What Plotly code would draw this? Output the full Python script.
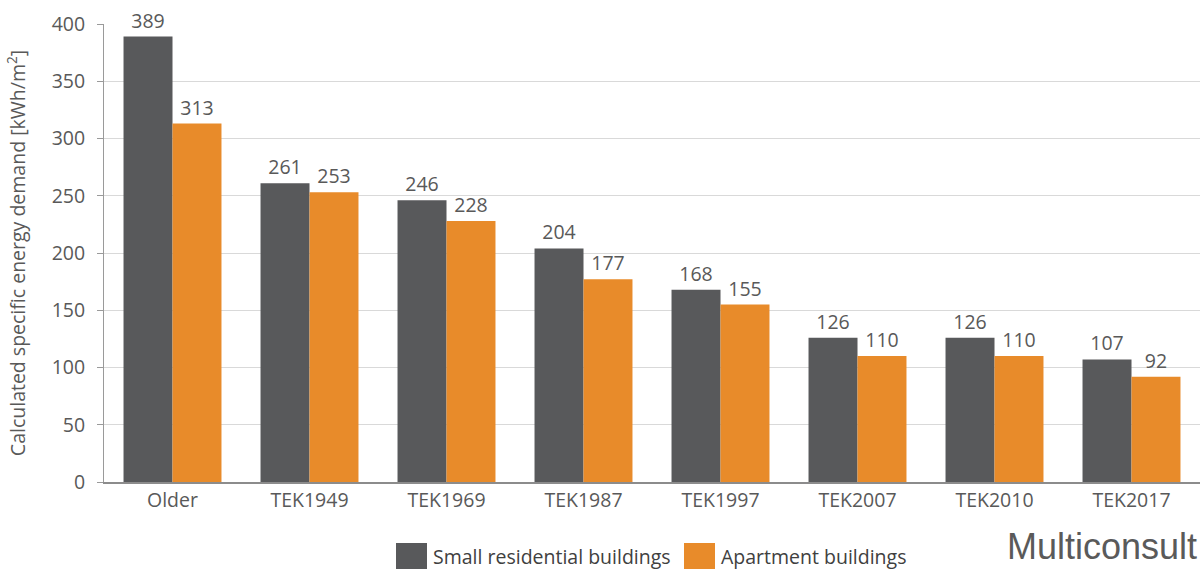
import plotly.graph_objects as go

categories = ["Older", "TEK1949", "TEK1969", "TEK1987", "TEK1997", "TEK2007", "TEK2010", "TEK2017"]
small_residential = [389, 261, 246, 204, 168, 126, 126, 107]
apartment = [313, 253, 228, 177, 155, 110, 110, 92]
series_names = ["Small residential buildings", "Apartment buildings"]
series_colors = ["#58595b", "#e88b2a"]

font_family = "Open Sans, Lato, sans-serif"
text_color = "#595959"
fs = 19.5

W, H = 1200, 570
ML, MR, MT, MB = 104, 0, 24, 88
PW, PH = W - ML - MR, H - MT - MB


def px_x(px):
    return (px - ML) / PW


def px_y(py):
    return (H - MB - py) / PH


fig = go.Figure()
for name, vals, col in zip(series_names, [small_residential, apartment], series_colors):
    fig.add_trace(go.Bar(
        x=categories, y=vals, name=name,
        marker=dict(color=col, line=dict(width=0)),
        text=vals, textposition="outside", cliponaxis=False,
        textfont=dict(size=fs, color=text_color, family=font_family),
        showlegend=False,
    ))

fig.update_layout(
    width=W, height=H,
    margin=dict(l=ML, r=MR, t=MT, b=MB, autoexpand=False),
    paper_bgcolor="white", plot_bgcolor="white",
    barmode="group", bargap=0.285, bargroupgap=0,
    font=dict(family=font_family, size=fs, color=text_color),
    showlegend=False,
)
fig.update_xaxes(
    showline=True, linecolor="#8c8c8c", linewidth=1.5,
    ticks="", tickfont=dict(size=fs, color=text_color),
    showgrid=False, automargin=False,
)
fig.update_yaxes(
    range=[0, 400], dtick=50,
    showline=True, linecolor="#9a9a9a", linewidth=1,
    ticks="outside", ticklen=6, tickcolor="#9a9a9a", ticklabelstandoff=8,
    tickfont=dict(size=fs, color=text_color),
    showgrid=True, gridcolor="#d9d9d9", gridwidth=1,
    zeroline=False, automargin=False,
    title=dict(text="Calculated specific energy demand [kWh/m<sup>2</sup>]",
               font=dict(size=fs, color=text_color), standoff=20),
)

# custom legend (large square swatches)
legend_px = [396, 684]
for lpx, name, col in zip(legend_px, series_names, series_colors):
    fig.add_shape(type="rect", xref="paper", yref="paper",
                  x0=px_x(lpx), x1=px_x(lpx + 31),
                  y0=px_y(569), y1=px_y(543),
                  fillcolor=col, line=dict(width=0), layer="above")
    fig.add_annotation(text=name, xref="paper", yref="paper",
                       x=px_x(lpx + 35), xanchor="left",
                       y=px_y(556), yanchor="middle", showarrow=False,
                       font=dict(size=fs, color="#404040", family=font_family))

fig.add_annotation(
    text="Multiconsult", xref="paper", yref="paper", x=px_x(1199), xanchor="right",
    y=px_y(546), yanchor="middle", showarrow=False,
    font=dict(size=36, color="#5a5a5a", family="Liberation Sans Narrow, Arial Narrow, sans-serif"),
)

fig.write_html("out.html")
